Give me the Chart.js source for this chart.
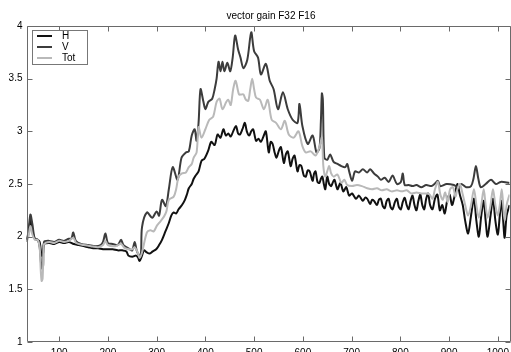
<!DOCTYPE html>
<html>
<head>
<meta charset="utf-8">
<script src="https://cdn.jsdelivr.net/npm/chart.js@4.4.1/dist/chart.umd.min.js"></script>
<style>
  html, body { margin:0; padding:0; background:#fff; overflow:hidden; }
  #wrap { width:514px; height:352px; }
</style>
</head>
<body>
<div id="wrap"><canvas id="gain" width="514" height="352"></canvas></div>
<script>
/* ---------------- data ---------------- */

const chartTitle = 'vector gain F32 F16';
const seriesNames = ['H', 'V', 'Tot'];
const xTicks = [100, 200, 300, 400, 500, 600, 700, 800, 900, 1000];
const yTicks = [1, 1.5, 2, 2.5, 3, 3.5, 4];

// [freq, gain]
const hPts = [
  [33,1.97],[37,2.03],[41,2.15],[45,2.05],[50,1.98],[56,1.97],[60,1.95],[64,1.82],[67,1.84],[69,1.93],
  [80,1.94],[90,1.93],[100,1.95],[110,1.94],[120,1.95],[130,1.93],[140,1.92],[150,1.91],[160,1.9],
  [170,1.89],[180,1.89],[190,1.88],[200,1.88],[210,1.88],[220,1.87],[230,1.87],[238,1.86],[242,1.82],
  [250,1.81],[258,1.82],[262,1.8],[265,1.77],[270,1.82],[274,1.87],[280,1.85],[286,1.84],[292,1.86],
  [299,1.88],[305,1.92],[311,1.97],[318,2.05],[325,2.13],[330,2.2],[335,2.23],[340,2.22],[345,2.26],
  [352,2.3],[358,2.35],[362,2.4],[366,2.46],[372,2.5],[376,2.55],[380,2.58],[386,2.62],[392,2.72],
  [398,2.74],[406,2.82],[412,2.9],[419,2.87],[425,2.97],[431,2.94],[437,3.02],[442,2.96],[447,2.98],
  [452,2.95],[457,3.0],[463,3.05],[467,2.98],[471,2.97],[476,3.02],[481,3.08],[485,3.0],[490,2.96],
  [494,3.0],[498,3.02],[504,2.91],[509,2.93],[514,2.9],[519,2.95],[524,3.0],[530,2.8],[534,2.9],
  [538,2.88],[542,2.8],[546,2.75],[551,2.82],[555,2.85],[561,2.7],[565,2.78],[569,2.81],[575,2.67],
  [579,2.74],[583,2.77],[589,2.62],[593,2.68],[597,2.67],[602,2.58],[606,2.57],[610,2.63],[614,2.62],
  [620,2.53],[623,2.6],[626,2.62],[630,2.52],[634,2.51],[637,2.55],[640,2.57],[643,2.5],[646,2.45],
  [650,2.57],[654,2.5],[658,2.48],[662,2.52],[665,2.54],[671,2.45],[677,2.51],[683,2.43],[689,2.47],
  [695,2.39],[701,2.41],[709,2.36],[715,2.39],[723,2.34],[728,2.37],[732,2.36],[738,2.31],[742,2.35],
  [746,2.34],[752,2.3],[756,2.35],[760,2.36],[764,2.29],[768,2.27],[772,2.34],[776,2.36],[780,2.28],
  [784,2.26],[789,2.33],[793,2.36],[797,2.28],[801,2.26],[805,2.33],[809,2.37],[813,2.3],[817,2.26],
  [821,2.34],[825,2.39],[829,2.3],[833,2.25],[837,2.34],[841,2.4],[845,2.3],[849,2.26],[853,2.36],
  [857,2.41],[861,2.3],[866,2.26],[871,2.36],[876,2.4],[881,2.25],[886,2.3],[891,2.22],[896,2.34],
  [901,2.4],[906,2.3],[911,2.38],[917,2.5],[922,2.4],[928,2.3],[933,2.15],[939,2.03],[945,2.2],
  [951,2.36],[956,2.15],[961,2.0],[966,2.2],[971,2.34],[975,2.15],[979,2.0],[985,2.2],[990,2.36],
  [995,2.15],[1000,2.02],[1004,2.2],[1008,2.34],[1011,2.15],[1014,1.99],[1018,2.2],[1024,2.3]
];

const vPts = [
  [33,1.95],[37,2.05],[41,2.21],[45,2.12],[50,1.98],[56,1.97],[60,1.9],[64,1.7],[67,1.72],[69,1.95],
  [80,1.96],[90,1.95],[100,1.97],[110,1.96],[120,1.98],[125,1.98],[129,2.04],[134,1.96],[145,1.93],
  [160,1.92],[175,1.91],[185,1.92],[190,1.95],[195,2.03],[200,1.94],[210,1.93],[220,1.92],[227,1.97],
  [232,1.92],[245,1.88],[250,1.87],[255,1.95],[259,1.87],[265,1.82],[268,1.85],[270,2.09],[280,2.23],
  [291,2.18],[300,2.24],[305,2.2],[311,2.35],[319,2.29],[325,2.45],[333,2.66],[343,2.54],[351,2.75],
  [360,2.8],[366,2.81],[372,2.96],[378,3.02],[382,2.91],[386,3.08],[390,3.4],[396,3.28],[400,3.21],
  [406,3.28],[414,3.31],[419,3.4],[423,3.5],[427,3.66],[431,3.57],[435,3.66],[439,3.57],[445,3.65],
  [451,3.57],[456,3.7],[461,3.91],[467,3.78],[472,3.7],[478,3.6],[486,3.68],[494,3.94],[500,3.76],
  [508,3.7],[514,3.54],[524,3.64],[532,3.48],[540,3.4],[549,3.21],[559,3.37],[569,3.21],[579,3.11],
  [589,3.08],[593,3.26],[599,3.05],[610,2.88],[620,2.96],[628,2.8],[634,2.84],[637,3.1],[639,3.36],
  [641,3.3],[644,2.75],[650,2.73],[656,2.78],[663,2.71],[671,2.69],[679,2.67],[687,2.66],[691,2.69],
  [695,2.62],[701,2.53],[707,2.62],[715,2.61],[723,2.64],[732,2.61],[738,2.64],[746,2.6],[754,2.57],
  [760,2.54],[768,2.56],[776,2.52],[784,2.58],[793,2.5],[801,2.52],[805,2.6],[809,2.49],[817,2.49],
  [825,2.48],[833,2.49],[843,2.47],[853,2.49],[864,2.48],[870,2.5],[877,2.53],[882,2.48],[895,2.5],
  [910,2.49],[918,2.47],[925,2.5],[935,2.47],[945,2.48],[950,2.55],[955,2.67],[960,2.55],[965,2.47],
  [975,2.5],[986,2.54],[996,2.5],[1006,2.52],[1024,2.51]
];

const totPts = [
  [33,1.95],[37,2.0],[41,2.1],[45,2.02],[50,1.97],[56,1.97],[60,1.9],[62,1.7],[64,1.58],[66,1.6],
  [68,1.88],[69,1.93],[80,1.95],[90,1.94],[100,1.96],[110,1.95],[120,1.96],[129,1.99],[135,1.94],
  [150,1.92],[165,1.91],[180,1.9],[190,1.92],[195,1.96],[200,1.92],[215,1.91],[227,1.93],[235,1.89],
  [250,1.88],[255,1.9],[262,1.84],[265,1.8],[270,1.85],[280,2.04],[287,2.06],[294,2.05],[300,2.1],
  [305,2.13],[315,2.19],[320,2.24],[325,2.35],[335,2.38],[340,2.45],[345,2.57],[352,2.6],[360,2.61],
  [366,2.66],[372,2.69],[376,2.75],[382,2.8],[386,3.04],[392,2.94],[400,3.02],[408,3.11],[416,3.14],
  [423,3.28],[429,3.31],[435,3.21],[443,3.28],[447,3.3],[452,3.25],[457,3.4],[462,3.48],[469,3.35],
  [474,3.35],[478,3.35],[483,3.3],[488,3.29],[492,3.4],[496,3.5],[500,3.4],[504,3.32],[512,3.3],
  [520,3.21],[528,3.3],[536,3.11],[545,3.08],[555,3.02],[563,3.1],[571,2.97],[581,2.94],[591,3.0],
  [599,2.86],[606,2.8],[616,2.81],[626,2.77],[634,2.85],[639,2.94],[642,2.67],[646,2.57],[650,2.62],
  [654,2.67],[658,2.6],[663,2.57],[671,2.59],[679,2.51],[685,2.54],[691,2.49],[701,2.48],[711,2.49],
  [721,2.48],[732,2.46],[742,2.45],[752,2.46],[762,2.44],[772,2.45],[782,2.43],[793,2.44],[803,2.43],
  [813,2.44],[823,2.41],[833,2.42],[843,2.41],[853,2.41],[860,2.4],[866,2.36],[871,2.45],[877,2.52],
  [882,2.4],[887,2.35],[892,2.42],[897,2.33],[902,2.45],[908,2.47],[913,2.38],[917,2.45],[922,2.5],
  [928,2.4],[933,2.3],[939,2.2],[945,2.3],[951,2.45],[956,2.3],[961,2.18],[966,2.3],[971,2.45],
  [975,2.3],[979,2.18],[985,2.3],[990,2.45],[995,2.3],[1000,2.2],[1004,2.3],[1008,2.45],[1011,2.3],
  [1014,2.15],[1018,2.3],[1024,2.4]
];

const seriesColors = ['#111111', '#3c3c3c', '#b9b9b9'];

/* ---------------- drawing ---------------- */

const FONT = '"Liberation Sans", Arial, Helvetica, sans-serif';
const toXY = pts => pts.map(p => ({ x: p[0], y: p[1] }));

// box, inward ticks, title and legend, MATLAB style
const frame = {
  id: 'frame',
  afterDraw(chart) {
    const { ctx, chartArea: a, scales: { x, y } } = chart;
    const L = Math.round(a.left) + 0.5, R = Math.round(a.right) + 0.5;
    const T = Math.round(a.top) + 0.5, B = Math.round(a.bottom) - 0.5;
    ctx.save();
    ctx.strokeStyle = '#6a6a6a';
    ctx.lineWidth = 1;
    ctx.beginPath();
    ctx.moveTo(L, B); ctx.lineTo(L, T); ctx.lineTo(R, T); ctx.lineTo(R, B); ctx.lineTo(L, B);
    xTicks.forEach(v => {
      const px = Math.round(x.getPixelForValue(v)) + 0.5;
      ctx.moveTo(px, B); ctx.lineTo(px, B - 5);
      ctx.moveTo(px, T); ctx.lineTo(px, T + 5);
    });
    yTicks.forEach(v => {
      const py = Math.round(y.getPixelForValue(v)) + 0.5;
      ctx.moveTo(L, py); ctx.lineTo(L + 5, py);
      ctx.moveTo(R, py); ctx.lineTo(R - 5, py);
    });
    ctx.stroke();

    // title
    ctx.fillStyle = '#000';
    ctx.font = '10px ' + FONT;
    ctx.textAlign = 'center';
    ctx.textBaseline = 'middle';
    ctx.fillText(chartTitle, (a.left + a.right) / 2 + 3, 16);

    // legend
    const bx = 32.5, by = 30.5, bw = 55, bh = 34;
    ctx.fillStyle = '#fff';
    ctx.fillRect(bx, by, bw, bh);
    ctx.strokeStyle = '#777';
    ctx.strokeRect(bx, by, bw, bh);
    ctx.textAlign = 'left';
    seriesNames.forEach((name, i) => {
      const ly = 36 + i * 11;
      ctx.strokeStyle = seriesColors[i];
      ctx.lineWidth = 2;
      ctx.beginPath();
      ctx.moveTo(37, ly); ctx.lineTo(52, ly);
      ctx.stroke();
      ctx.fillStyle = '#000';
      ctx.fillText(name, 62, ly);
    });
    ctx.restore();
  }
};

new Chart(document.getElementById('gain'), {
  type: 'line',
  data: {
    datasets: [hPts, vPts, totPts].map((pts, i) => ({
      label: seriesNames[i],
      data: toXY(pts),
      borderColor: seriesColors[i],
      borderWidth: 2,
      pointRadius: 0,
      tension: 0.3,
      fill: false
    })).reverse()  // Tot at the back, H on top
  },
  options: {
    responsive: false,
    animation: false,
    devicePixelRatio: 1,
    layout: { padding: { top: 26, right: 1.5, left: 0, bottom: 0 } },
    plugins: { legend: { display: false }, title: { display: false }, tooltip: { enabled: false } },
    scales: {
      x: {
        type: 'linear',
        min: 33, max: 1024,
        grid: { display: false, drawTicks: false },
        border: { display: false },
        afterBuildTicks: s => { s.ticks = xTicks.map(v => ({ value: v })); },
        afterFit: s => { s.height = 10; },
        ticks: {
          padding: 5, color: '#000', font: { family: FONT, size: 10 },
          maxRotation: 0, autoSkip: false,
          callback: v => String(v)
        }
      },
      y: {
        min: 1, max: 4,
        grid: { display: false, drawTicks: false },
        border: { display: false },
        afterBuildTicks: s => { s.ticks = yTicks.map(v => ({ value: v })); },
        afterFit: s => { s.width = 26.5; },
        ticks: {
          padding: 4, color: '#000', font: { family: FONT, size: 10 },
          callback: v => String(v)
        }
      }
    }
  },
  plugins: [frame]
});
</script>
</body>
</html>
